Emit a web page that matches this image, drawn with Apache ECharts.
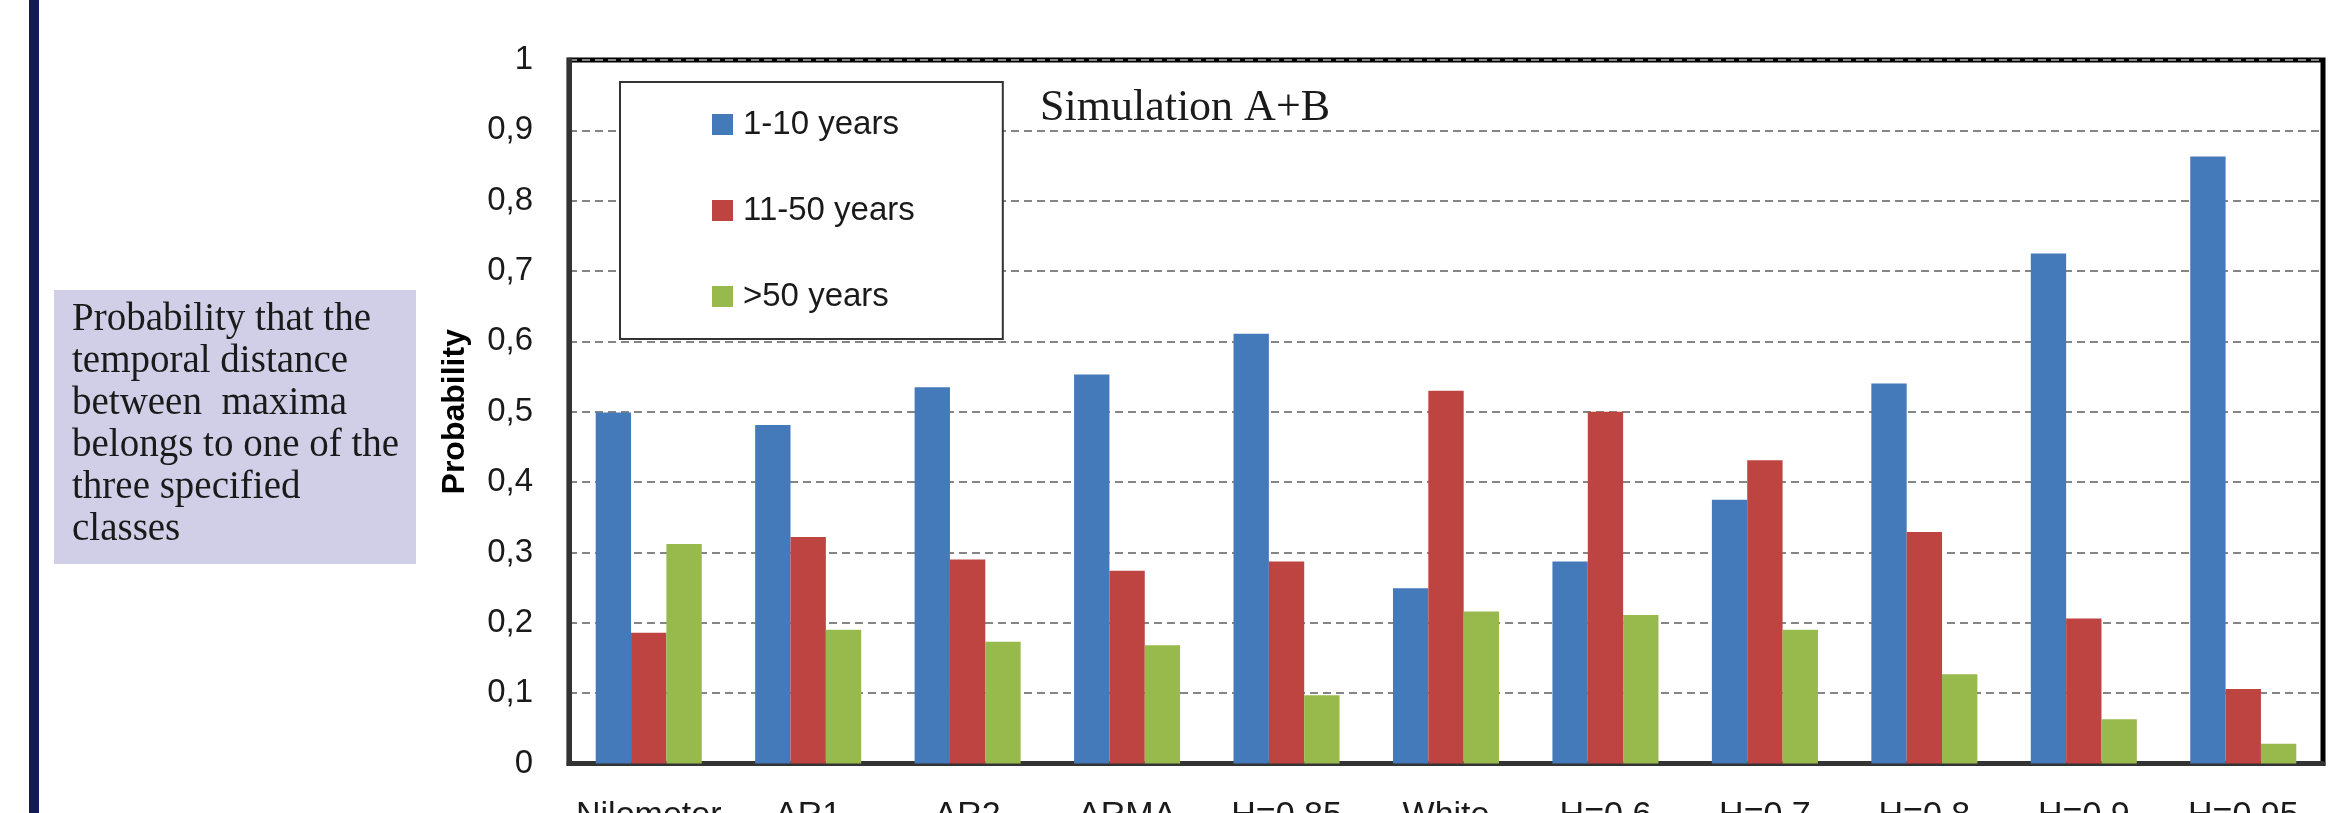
<!DOCTYPE html>
<html>
<head>
<meta charset="utf-8">
<script src="https://cdn.jsdelivr.net/npm/echarts@6/dist/echarts.min.js"></script>
<style>
  html, body { margin: 0; padding: 0; background: #fff; }
  #chart { width: 2330px; height: 813px; }
</style>
</head>
<body>
<div id="chart"></div>
<script>
const categories = ['Nilometer', 'AR1', 'AR2', 'ARMA', 'H=0.85', 'White', 'H=0.6', 'H=0.7', 'H=0.8', 'H=0.9', 'H=0.95'];
const seriesNames = ['1-10 years', '11-50 years', '>50 years'];
const years1to10 = [0.499, 0.481, 0.535, 0.553, 0.611, 0.249, 0.287, 0.375, 0.540, 0.725, 0.863];
const years11to50 = [0.186, 0.322, 0.290, 0.274, 0.287, 0.530, 0.500, 0.431, 0.329, 0.206, 0.106];
const yearsOver50 = [0.312, 0.190, 0.173, 0.168, 0.097, 0.216, 0.211, 0.190, 0.127, 0.063, 0.028];
const titleText = 'Simulation A+B';
const yAxisName = 'Probability';
const noteLines = ['Probability that the', 'temporal distance', 'between  maxima', 'belongs to one of the', 'three specified', 'classes'];

const colors = ['#4479BA', '#BE4441', '#98B94C'];
const sans = "'Liberation Sans', Arial, sans-serif";
const serif = "'Liberation Serif', 'Times New Roman', serif";

const chart = echarts.init(document.getElementById('chart'), null, { renderer: 'canvas' });
chart.setOption({
  animation: false,
  backgroundColor: '#ffffff',
  color: colors,
  title: {
    text: titleText,
    left: 1040,
    top: 86,
    padding: 0,
    textStyle: { fontFamily: serif, fontSize: 44, fontWeight: 'normal', color: '#1a1a1a' }
  },
  legend: {
    orient: 'vertical',
    left: 620,
    top: 82,
    padding: [26, 88, 26, 92],
    itemGap: 53,
    itemWidth: 21,
    itemHeight: 21,
    icon: 'rect',
    backgroundColor: '#ffffff',
    borderColor: '#333333',
    borderWidth: 2,
    borderRadius: 0,
    textStyle: { fontFamily: sans, fontSize: 33, color: '#1a1a1a', lineHeight: 33, padding: [0, 0, 0, 5] },
    data: seriesNames
  },
  grid: {
    left: 569, top: 60, right: 7, bottom: 49.5,
    containLabel: false,
    outerBoundsMode: 'none',
    show: true, borderColor: '#000000', borderWidth: 5, backgroundColor: 'transparent'
  },
  xAxis: {
    type: 'category',
    data: categories,
    axisTick: { show: false },
    axisLine: { show: true, lineStyle: { color: '#333333', width: 5 } },
    axisLabel: { margin: 35, fontFamily: sans, fontSize: 34, color: '#1a1a1a', interval: 0 },
    splitLine: { show: false }
  },
  yAxis: {
    type: 'value',
    min: 0, max: 1, interval: 0.1,
    name: yAxisName,
    nameLocation: 'middle',
    nameRotate: 90,
    nameGap: 98,
    nameTextStyle: { fontFamily: sans, fontSize: 32, fontWeight: 'bold', color: '#000000' },
    axisLine: { show: true, lineStyle: { color: '#333333', width: 5 } },
    axisTick: { show: false },
    axisLabel: {
      margin: 36, fontFamily: sans, fontSize: 33, color: '#1a1a1a',
      formatter: function (v) {
        if (Math.abs(v) < 1e-9) return '0';
        if (Math.abs(v - 1) < 1e-9) return '1';
        return v.toFixed(1).replace('.', ',');
      }
    },
    splitLine: { show: true, lineStyle: { color: '#858585', width: 2, type: [8, 5] } }
  },
  series: [
    { name: seriesNames[0], type: 'bar', data: years1to10, barGap: '0%', barCategoryGap: '33.5%' },
    { name: seriesNames[1], type: 'bar', data: years11to50, barGap: '0%', barCategoryGap: '33.5%' },
    { name: seriesNames[2], type: 'bar', data: yearsOver50, barGap: '0%', barCategoryGap: '33.5%' }
  ],
  graphic: [
    { type: 'rect', shape: { x: 29, y: 0, width: 10, height: 813 }, style: { fill: '#121B58' }, silent: true },
    { type: 'rect', shape: { x: 54, y: 290, width: 362, height: 274 }, style: { fill: '#D0CFE7' }, silent: true },
    {
      type: 'text', x: 72, y: 299, silent: true,
      style: {
        text: noteLines.join('\n'),
        font: "39px 'Liberation Serif', 'Times New Roman', serif",
        fill: '#1a1a1a',
        lineHeight: 42,
        textAlign: 'left',
        textVerticalAlign: 'top'
      }
    }
  ]
});
</script>
</body>
</html>
